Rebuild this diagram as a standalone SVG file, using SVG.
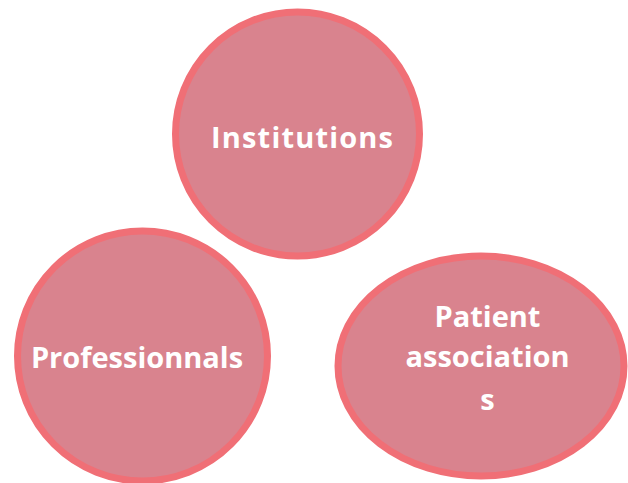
<svg xmlns="http://www.w3.org/2000/svg" width="628" height="483" viewBox="0 0 628 483">
<style>
.n{fill:#D9838E;stroke:#F06F76;stroke-width:7}
.t{fill:#FFFFFF;font-family:"Open Sans","Liberation Sans",sans-serif;font-weight:bold;font-size:29px;text-anchor:middle}
</style>
<rect width="628" height="483" fill="#FFFFFF"/>
<g id="connectors"></g>
<g id="institutions">
<circle class="n" cx="297.5" cy="134" r="122"/>
<text class="t" x="302" y="148" textLength="182" lengthAdjust="spacing">Institutions</text>
</g>
<g id="professionnals">
<circle class="n" cx="142.5" cy="356" r="125"/>
<text class="t" x="137" y="368">Professionnals</text>
</g>
<g id="patient-associations">
<ellipse class="n" cx="481" cy="366" rx="143" ry="110"/>
<text class="t" x="487.5" y="327">Patient</text>
<text class="t" x="487.5" y="367">association</text>
<text class="t" x="487.5" y="410">s</text>
</g>
</svg>
